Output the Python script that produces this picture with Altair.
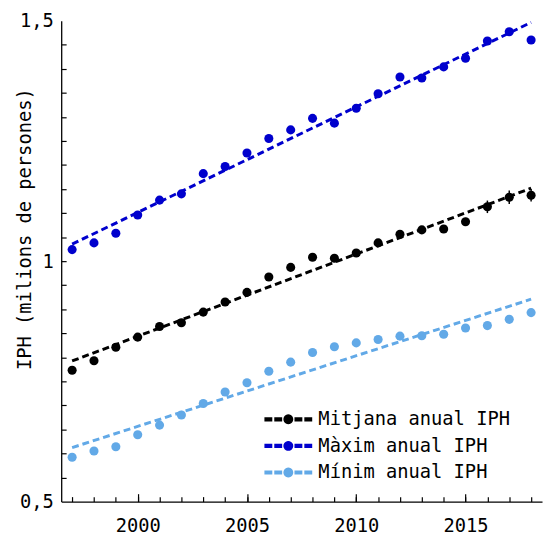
import math
import altair as alt
import pandas as pd

years = list(range(1997, 2019))
mitjana = [0.773, 0.793, 0.821, 0.842, 0.864, 0.872, 0.894, 0.915, 0.935, 0.967, 0.987,
           1.008, 1.006, 1.017, 1.038, 1.056, 1.065, 1.067, 1.082, 1.113, 1.133, 1.137]
maxim = [1.024, 1.038, 1.058, 1.096, 1.127, 1.140, 1.182, 1.197, 1.225, 1.255, 1.273,
         1.297, 1.287, 1.318, 1.348, 1.383, 1.381, 1.404, 1.422, 1.458, 1.477, 1.460]
minim = [0.592, 0.605, 0.614, 0.639, 0.659, 0.680, 0.704, 0.728, 0.747, 0.771, 0.790,
         0.810, 0.822, 0.830, 0.837, 0.844, 0.845, 0.848, 0.861, 0.866, 0.879, 0.893]
mitjana_err = [0, 0, 0, 0, 0, 0, 0, 0, 0, 0, 0,
               0, 0, 0, 0.005, 0.007, 0.007, 0.007, 0.008, 0.013, 0.014, 0.013]

series_names = ["Mitjana anual IPH", "Màxim anual IPH", "Mínim anual IPH"]
series_colors = ["#000000", "#0000CD", "#62A9E7"]

x_ticks_minor = list(range(1997, 2019))
x_ticks_major = [2000, 2005, 2010, 2015]
y_ticks_minor = [round(0.55 + 0.05 * i, 2) for i in range(19)]
y_labels = [0.5, 1.0, 1.5]

X0, X1 = 1996.5, 2018.5
Y0, Y1 = 0.5, 1.5
W = 488
H = 488
FONT = "DejaVu Sans Mono"

rows = []
for name, vals in zip(series_names, [mitjana, maxim, minim]):
    for yr, v in zip(years, vals):
        rows.append({"year": yr, "value": v, "series": name})
df = pd.DataFrame(rows)

err_df = pd.DataFrame({
    "year": years,
    "lo": [m - e for m, e in zip(mitjana, mitjana_err)],
    "hi": [m + e for m, e in zip(mitjana, mitjana_err)],
    "err": mitjana_err,
})
err_df = err_df[err_df["err"] > 0].reset_index(drop=True)

xscale = alt.Scale(domain=[X0, X1], nice=False, zero=False)
yscale = alt.Scale(domain=[Y0, Y1], nice=False, zero=False)
cscale = alt.Scale(domain=series_names, range=series_colors)

# legend symbol: dashed line with a dot in the middle
r = 0.85
circ = "M" + "L".join(
    f"{r * math.cos(2 * math.pi * k / 24):.3f},{r * math.sin(2 * math.pi * k / 24):.3f}" for k in range(24)
) + "Z"
legend_path = (
    "M-4.7,-0.28L-3.4,-0.28L-3.4,0.28L-4.7,0.28Z"
    "M-2.7,-0.28L-1.4,-0.28L-1.4,0.28L-2.7,0.28Z"
    "M1.4,-0.28L2.7,-0.28L2.7,0.28L1.4,0.28Z"
    "M3.4,-0.28L4.7,-0.28L4.7,0.28L3.4,0.28Z" + circ
)

base = alt.Chart(df)

lines = base.transform_regression(
    "year", "value", groupby=["series"]
).mark_line(strokeWidth=3, strokeDash=[7, 4]).encode(
    x=alt.X("year:Q", scale=xscale, axis=None),
    y=alt.Y("value:Q", scale=yscale, axis=None),
    color=alt.Color("series:N", scale=cscale),
)

points = base.mark_circle(size=85, opacity=1).encode(
    x=alt.X("year:Q", scale=xscale,
            axis=alt.Axis(orient="bottom", values=x_ticks_major, format="d", title=None, ticks=False,
                          labelPadding=15, labelFont=FONT, labelFontSize=19, labelColor="black",
                          domainColor="black", domainWidth=1.3, grid=False)),
    y=alt.Y("value:Q", scale=yscale,
            axis=alt.Axis(orient="left", values=y_labels, ticks=False, labelPadding=8,
                          labelExpr="datum.value == 1 ? '1' : replace(format(datum.value, '.1f'), '.', ',')",
                          labelFont=FONT, labelFontSize=19, labelColor="black",
                          domainColor="black", domainWidth=1.3, grid=False,
                          title="IPH (milions de persones)", titleFont=FONT, titleFontSize=19,
                          titleFontWeight="normal", titleColor="black",
                          titleX=-37, titleY=211, titleAngle=-90, titleAlign="center",
                          titleBaseline="middle")),
    color=alt.Color("series:N", scale=cscale,
                    legend=alt.Legend(title=None, orient="none", legendX=221, legendY=395,
                                      padding=0, rowPadding=7, symbolType=legend_path,
                                      symbolSize=100, labelOffset=21, labelLimit=400,
                                      labelFont=FONT, labelFontSize=19, labelColor="black")),
)

err_rule = alt.Chart(err_df).mark_rule(color="black", strokeWidth=1.5).encode(
    x=alt.X("year:Q", scale=xscale, axis=None),
    y=alt.Y("lo:Q", scale=yscale, axis=None),
    y2="hi:Q",
)

# inward ticks: extra axes mirrored onto the bottom/left edges
tick_minor = base.mark_point(opacity=0).encode(
    x=alt.X("year:Q", scale=xscale,
            axis=alt.Axis(orient="top", offset=-H, values=x_ticks_minor, labels=False, domain=False,
                          grid=False, title=None, ticks=True, tickSize=5, tickColor="black",
                          tickWidth=1.2)),
    y=alt.Y("value:Q", scale=yscale,
            axis=alt.Axis(orient="right", offset=-W, values=y_ticks_minor, labels=False, domain=False,
                          grid=False, title=None, ticks=True, tickSize=5, tickColor="black",
                          tickWidth=1.2)),
)
tick_major = base.mark_point(opacity=0).encode(
    x=alt.X("year:Q", scale=xscale,
            axis=alt.Axis(orient="top", offset=-H, values=x_ticks_major, labels=False, domain=False,
                          grid=False, title=None, ticks=True, tickSize=8, tickColor="black",
                          tickWidth=1.2)),
    y=alt.Y("value:Q", scale=yscale, axis=None),
)

chart = alt.layer(
    lines, points, err_rule, tick_minor, tick_major
).resolve_axis(
    x="independent", y="independent"
).properties(
    width=W, height=H,
    autosize=alt.AutoSizeParams(type="none"),
    padding={"left": 54, "top": 9, "right": 2, "bottom": 30},
).configure_view(stroke=None)

chart.save("out.html", embed_options={"renderer": "svg", "actions": False})
